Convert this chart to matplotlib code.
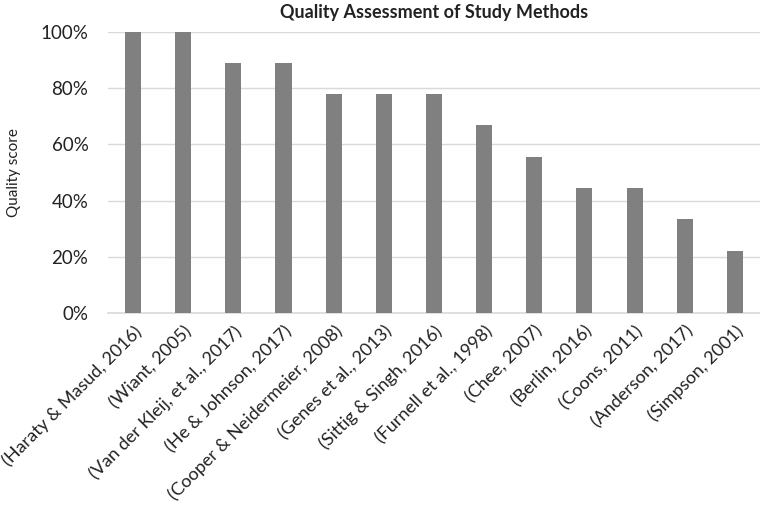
import matplotlib
matplotlib.use("Agg")
import matplotlib.pyplot as plt
from matplotlib.ticker import PercentFormatter

studies = [
    "(Haraty & Masud, 2016)",
    "(Wiant, 2005)",
    "(Van der Kleij, et al., 2017)",
    "(He & Johnson, 2017)",
    "(Cooper & Neidermeier, 2008)",
    "(Genes et al., 2013)",
    "(Sittig & Singh, 2016)",
    "(Furnell et al., 1998)",
    "(Chee, 2007)",
    "(Berlin, 2016)",
    "(Coons, 2011)",
    "(Anderson, 2017)",
    "(Simpson, 2001)",
]
scores = [100, 100, 88.9, 88.9, 77.8, 77.8, 77.8, 66.7, 55.6, 44.4, 44.4, 33.3, 22.2]
yticks = [0, 20, 40, 60, 80, 100]

plt.rcParams["font.family"] = ["Lato", "DejaVu Sans"]

fig = plt.figure(figsize=(7.6, 5.05), dpi=100)
ax = fig.add_axes([0.142, 0.380, 0.858, 0.557])

x = range(len(studies))
ax.bar(x, scores, width=0.32, color="#808080", zorder=3)

ax.set_xlim(-0.5, len(studies) - 0.5)
ax.set_ylim(0, 100)
ax.set_yticks(yticks)
ax.yaxis.set_major_formatter(PercentFormatter(decimals=0))
ax.grid(axis="y", color="#d9d9d9", lw=1, zorder=0)

ax.set_xticks(list(x))
ax.set_xticklabels(studies, rotation=45, ha="right", rotation_mode="anchor",
                   fontsize=13, color="#222222")
ax.tick_params(axis="both", length=0)
ax.tick_params(axis="y", labelsize=13.5, colors="#222222", pad=14)
ax.tick_params(axis="x", pad=7)

for spine in ["top", "right", "left"]:
    ax.spines[spine].set_visible(False)
ax.spines["bottom"].set_color("#d9d9d9")
ax.spines["bottom"].set_linewidth(1.2)

ax.set_ylabel("Quality score", fontsize=11, color="#222222", labelpad=14)
fig.text(0.571, 0.975, "Quality Assessment of Study Methods", ha="center",
         va="center", fontsize=13, fontweight="bold", color="#222222")

fig.savefig("out.png", dpi=100)
